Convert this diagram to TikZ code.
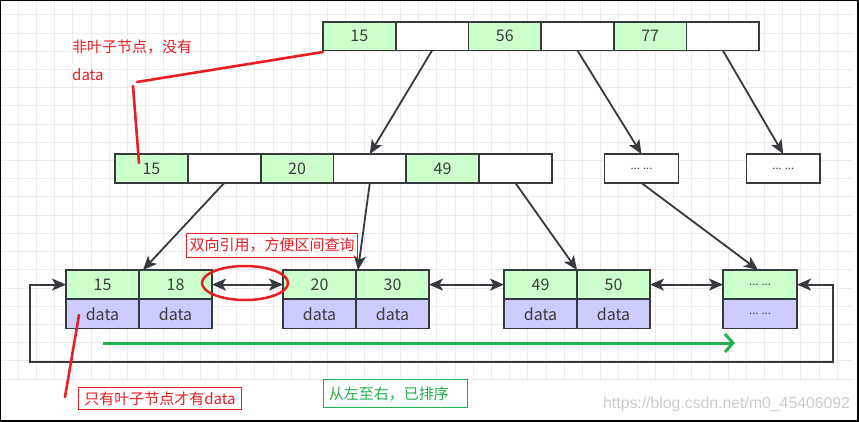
\documentclass[tikz,border=0pt]{standalone}
\usepackage{fontspec}
\setmainfont{Noto Sans CJK SC}
\newfontfamily\wmfont{Liberation Sans}
\usetikzlibrary{arrows.meta,calc,shapes.geometric}
\definecolor{cellgreen}{HTML}{CCFFCC}
\definecolor{cellblue}{HTML}{CCCCFF}
\definecolor{edgec}{HTML}{36393D}
\definecolor{txtc}{HTML}{3C3C3C}
\definecolor{annred}{HTML}{E81E25}
\definecolor{anngreen}{HTML}{22B14C}
\definecolor{gridc}{HTML}{EBEBEB}
\begin{document}
\begin{tikzpicture}[x=1pt,y=-1pt,
  cell/.style={draw=edgec, line width=1.8pt, minimum width=72.7pt, minimum height=28.5pt,
    inner sep=0pt, outer sep=0pt, anchor=north west, text=txtc, font=\fontsize{16}{18}\selectfont},
  gcell/.style={cell, fill=cellgreen},
  wcell/.style={cell, fill=white},
  bcell/.style={cell, fill=cellblue},
  dots/.style={font=\fontsize{11}{12}\selectfont},
  tip/.tip={Stealth[length=14pt,width=12pt,inset=3.5pt]},
  conn/.style={draw=edgec, line width=1.8pt, -tip},
  dbl/.style={draw=edgec, line width=1.8pt, tip-tip},
  redline/.style={draw=annred, line width=2.6pt, line cap=round},
  anntext/.style={inner sep=0pt, anchor=west, font=\fontsize{15}{18}\selectfont}
]
\useasboundingbox (0,0) rectangle (859,422);
\fill[white] (0,0) rectangle (859,422);
% grid
\foreach \i in {0,...,46} \draw[gridc, line width=1pt] ({\i*18.2},0) -- ({\i*18.2},380);
\foreach \j in {0,...,20} \draw[gridc, line width=1pt] (0,{15+\j*18.2}) -- (853,{15+\j*18.2});
% frame
\draw[black, line width=2pt] (0,0) rectangle (858,421);

% top level
\node[gcell] (t1) at (323,22) {15};
\node[wcell] (t2) at (t1.north east) {};
\node[gcell] (t3) at (t2.north east) {56};
\node[wcell] (t4) at (t3.north east) {};
\node[gcell] (t5) at (t4.north east) {77};
\node[wcell] (t6) at (t5.north east) {};

% second level
\tikzset{cell/.append style={minimum width=72.8pt, minimum height=29pt}}
\node[gcell] (m1) at (115,154) {15};
\node[wcell] (m2) at (m1.north east) {};
\node[gcell] (m3) at (m2.north east) {20};
\node[wcell] (m4) at (m3.north east) {};
\node[gcell] (m5) at (m4.north east) {49};
\node[wcell] (m6) at (m5.north east) {};
\node[wcell, minimum width=74pt, dots] (e1) at (604.5,154) {... ...};
\node[wcell, minimum width=73.5pt, dots] (e2) at (746.5,154) {... ...};

% leaves
\tikzset{cell/.append style={minimum width=73pt, minimum height=29.2pt}}
\node[gcell] (l1a) at (66,270) {15};
\node[gcell] (l1b) at (l1a.north east) {18};
\node[bcell] (l1c) at (l1a.south west) {data};
\node[bcell] (l1d) at (l1b.south west) {data};

\node[gcell] (l2a) at (283,270) {20};
\node[gcell] (l2b) at (l2a.north east) {30};
\node[bcell] (l2c) at (l2a.south west) {data};
\node[bcell] (l2d) at (l2b.south west) {data};

\node[gcell] (l3a) at (504,270) {49};
\node[gcell] (l3b) at (l3a.north east) {50};
\node[bcell] (l3c) at (l3a.south west) {data};
\node[bcell] (l3d) at (l3b.south west) {data};

\node[gcell, minimum width=74pt, dots] (l4a) at (723,270) {... ...};
\node[bcell, minimum width=74pt, dots] (l4c) at (l4a.south west) {... ...};

% tree arrows
\draw[conn] (t2.south) -- (m4.north);
\draw[conn] (t4.south) -- (e1.north);
\draw[conn] (t6.south) -- (e2.north);
\draw[conn] (m2.south) -- ([xshift=4pt]l1b.north west);
\draw[conn] (m4.south) -- ([xshift=2pt]l2b.north west);
\draw[conn] (m6.south) -- (l3b.north west);
\draw[conn] (e1.south) -- ([xshift=-2pt]l4a.north);

% leaf links
\draw[dbl] (l1b.east) -- (l2a.west);
\draw[dbl] (l2b.east) -- (l3a.west);
\draw[dbl] (l3b.east) -- (l4a.west);
\coordinate (ll) at (30,362);
\coordinate (lr) at (833,362);
\draw[dbl] (l1a.west) -| (ll) -- (lr) |- (l4a.east);

% annotations
\node[draw=annred, ellipse, line width=2.5pt, minimum width=86pt, minimum height=34pt, inner sep=0pt] (ring) at (245,283) {};

\node[anntext, text=annred] (lab1) at (72,47) {非叶子节点，没有};
\node[anntext, text=annred] (lab1b) at (72,75) {data};
\coordinate (p1) at (137,82);
\coordinate (p2) at (133,86);
\coordinate (p3) at (139,163);
\draw[redline] ([yshift=-1.5pt]t1.south west) -- (p1);
\draw[redline] (p2) -- (p3);

\node[draw=annred, line width=1pt, text=annred, font=\fontsize{15}{18}\selectfont,
  anchor=north west, minimum width=171pt, minimum height=23.5pt, inner sep=0pt] (lab2) at (186,233) {双向引用，方便区间查询};

\coordinate (q1) at (79,315);
\coordinate (q2) at (65,397);
\draw[redline] (q1) -- (q2);
\node[draw=annred, line width=1pt, text=annred, font=\fontsize{15}{18}\selectfont,
  anchor=north west, minimum width=162.4pt, minimum height=22.6pt, inner sep=0pt] (lab3) at (78.3,386.7) {只有叶子节点才有data};

\coordinate (g1) at (103,343);
\coordinate (g2) at (735,343);
\draw[anngreen, line width=3pt, -{Straight Barb[length=8pt,width=18pt]}] (g1) -- (g2);
\node[draw=anngreen, line width=1pt, text=anngreen, font=\fontsize{15}{18}\selectfont,
  anchor=north west, text width=134pt, align=left, inner xsep=5pt, inner ysep=0pt, minimum height=28pt] (lab4) at (323.3,379.3) {从左至右，已排序};

\node[anchor=west, inner sep=0pt, text=black!20, font=\wmfont\fontsize{15.8}{18}\selectfont] (wm) at (603,404) {https://blog.csdn.net/m0\_45406092};
\end{tikzpicture}
\end{document}
